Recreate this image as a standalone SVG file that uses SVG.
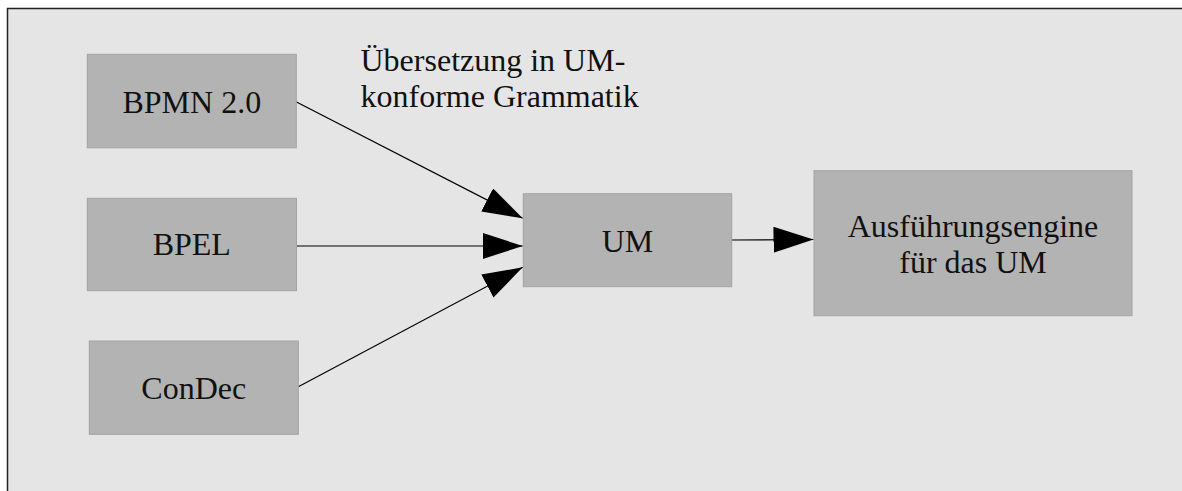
<svg xmlns="http://www.w3.org/2000/svg" width="1182" height="491" viewBox="0 0 1182 491">
  <style>
    .node rect { fill: #b3b3b3; stroke: #a3a3a3; stroke-width: 1; }
    .node text, .label { font-family: "Liberation Serif", "Times New Roman", serif; font-size: 32px; fill: #111111; }
    .node text { text-anchor: middle; }
    .edge { stroke: #000000; stroke-width: 1.2; fill: none; marker-end: url(#arrow); }
  </style>
  <defs>
    <marker id="arrow" markerUnits="userSpaceOnUse" markerWidth="40" markerHeight="26" refX="40" refY="13" orient="auto">
      <path d="M0,0 L40,13 L0,26 Z" fill="#000000"/>
    </marker>
  </defs>

  <!-- canvas -->
  <rect x="0" y="0" width="1182" height="491" fill="#ffffff"/>
  <rect x="7.5" y="8.5" width="1190" height="500" fill="#e5e5e5" stroke="#222222" stroke-width="1.5"/>

  <!-- connectors -->
  <g id="connectors">
    <line class="edge" x1="296" y1="101.7" x2="522.7" y2="218.3"/>
    <line class="edge" x1="296.5" y1="246" x2="522.7" y2="246"/>
    <line class="edge" x1="298.3" y1="386.7" x2="522.7" y2="267.3"/>
    <line class="edge" x1="732" y1="240" x2="813.5" y2="239.5"/>
  </g>

  <text class="label" x="360.5" y="70.7">Übersetzung in UM-</text>
  <text class="label" x="360.5" y="107.3">konforme Grammatik</text>

  <!-- nodes -->
  <g id="bpmn" class="node">
    <rect x="87.3" y="54.3" width="209" height="93.5"/>
    <text x="191.8" y="112.5">BPMN 2.0</text>
  </g>
  <g id="bpel" class="node">
    <rect x="87.3" y="198.3" width="209.2" height="92.4"/>
    <text x="191.8" y="255">BPEL</text>
  </g>
  <g id="condec" class="node">
    <rect x="89.3" y="341" width="209" height="93.3"/>
    <text x="193.8" y="399">ConDec</text>
  </g>
  <g id="um" class="node">
    <rect x="523.3" y="193.7" width="208.4" height="93"/>
    <text x="627.5" y="251.5">UM</text>
  </g>
  <g id="engine" class="node">
    <rect x="814" y="170.7" width="318" height="145"/>
    <text x="973" y="237">Ausführungsengine</text>
    <text x="973" y="272.7">für das UM</text>
  </g>
</svg>
